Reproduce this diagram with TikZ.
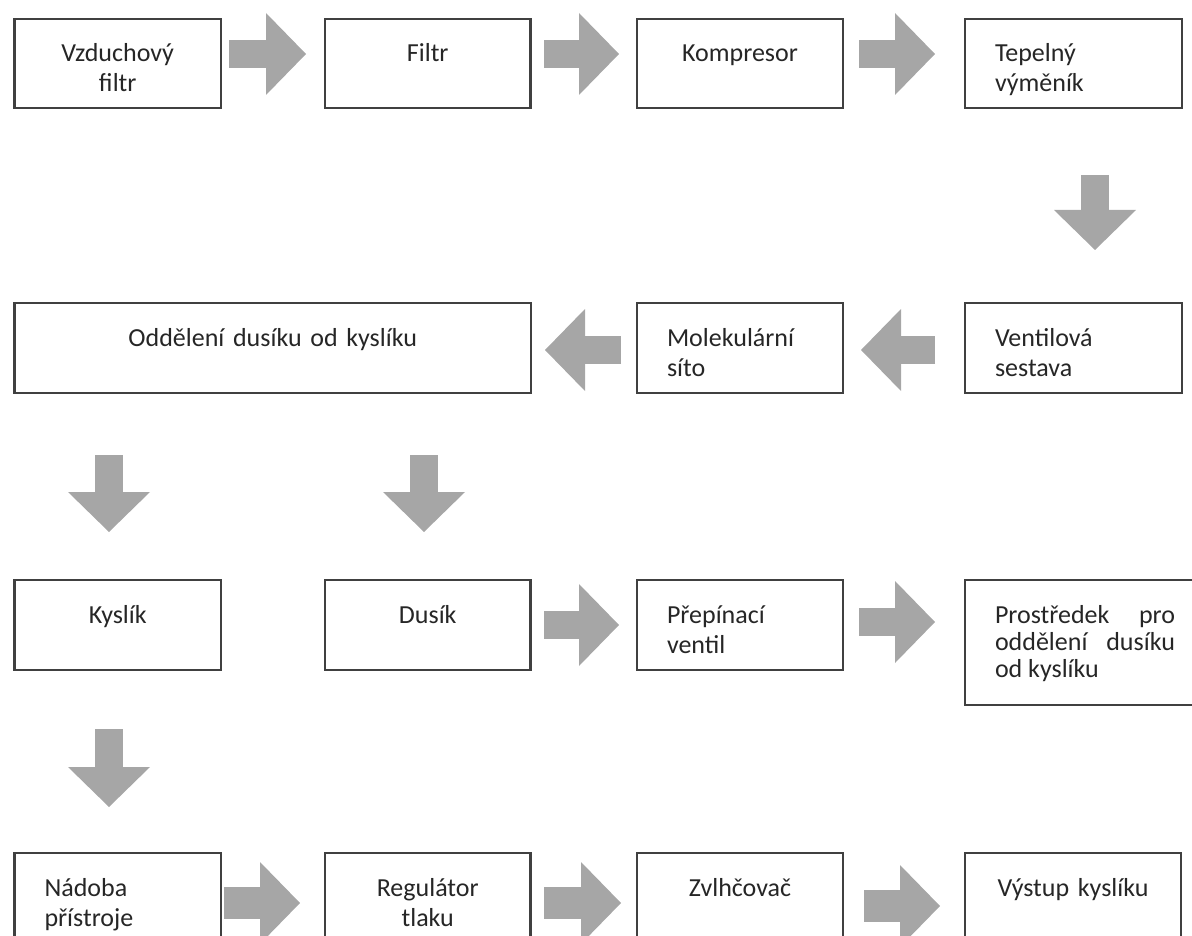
\documentclass[tikz,border=0pt]{standalone}
\usepackage{fontspec}
\setmainfont{Carlito}
\usetikzlibrary{arrows.meta}
\definecolor{arrgray}{RGB}{166,166,166}
\tikzset{
  stepbox/.style={draw=black!75, line width=2.4pt, rectangle, anchor=north west, outer sep=0pt, inner xsep=30pt, inner ysep=0pt, text height=43pt, text depth=46pt, text=black!85, font=\fontsize{26}{30}\selectfont},
  blockarr/.style={draw=arrgray, line width=28pt, -{Triangle[length=40pt,width=82pt,line width=0pt]}},
}

\begin{document}
\begin{tikzpicture}[x=1pt,y=-1pt]
\useasboundingbox (0,0) rectangle (1192,936);
\clip (0,0) rectangle (1192,936);
\node[stepbox, text width=146.5pt, align=center] (vzfiltr) at (14.5,19) {Vzduchový\\filtr};
\node[stepbox, text width=145.5pt, align=center] (filtr) at (325,19) {Filtr};
\node[stepbox, text width=146pt, align=center] (kompresor) at (637,19) {Kompresor};
\node[stepbox, text width=157pt, align=left] (vymenik) at (965,19) {Tepelný\\výměník};
\node[stepbox, text depth=47pt, text width=456.5pt, align=center] (oddeleni) at (14.5,303) {Oddělení dusíku od kyslíku};
\node[stepbox, text depth=47pt, text width=146pt, align=left] (sito) at (637,303) {Molekulární\\síto};
\node[stepbox, text depth=47pt, text width=157pt, align=left] (ventily) at (965,303) {Ventilová\\sestava};
\node[stepbox, text depth=47pt, text width=146.5pt, align=center] (kyslik) at (14.5,580) {Kyslík};
\node[stepbox, text depth=47pt, text width=145.5pt, align=center] (dusik) at (325,580) {Dusík};
\node[stepbox, text depth=47pt, text width=146pt, align=left] (prepinac) at (637,580) {Přepínací\\ventil};
\node[stepbox, text depth=82pt, text width=180pt, align=justify, font=\fontsize{26}{27}\selectfont] (prostredek) at (965,580) {Prostředek pro\linebreak oddělení dusíku\linebreak od kyslíku};
\node[stepbox, text depth=97pt, text width=146.5pt, align=left] (nadoba) at (14.5,853) {Nádoba\\přístroje};
\node[stepbox, text depth=97pt, text width=145.5pt, align=center] (regulator) at (325,853) {Regulátor\\tlaku};
\node[stepbox, text depth=97pt, text width=146pt, align=center] (zvlhcovac) at (637,853) {Zvlhčovač};
\node[stepbox, text depth=97pt, text width=156pt, align=center] (vystup) at (965,853) {Výstup kyslíku};
\draw[blockarr] ([xshift=8pt,yshift=9.5pt]vzfiltr.east) -- ([xshift=-19pt,yshift=9.5pt]filtr.west);
\draw[blockarr] ([xshift=13.5pt,yshift=9.5pt]filtr.east) -- ([xshift=-18pt,yshift=9.5pt]kompresor.west);
\draw[blockarr] ([xshift=16pt,yshift=9.5pt]kompresor.east) -- ([xshift=-30pt,yshift=9.5pt]vymenik.west);
\draw[blockarr] ([xshift=21.5pt,yshift=-67pt]vymenik.south) -- ([xshift=21.5pt,yshift=53pt]ventily.north);
\draw[blockarr] ([xshift=-30pt,yshift=-2pt]ventily.west) -- ([xshift=18pt,yshift=-2pt]sito.east);
\draw[blockarr] ([xshift=-16pt,yshift=-2pt]sito.west) -- ([xshift=14pt,yshift=-2pt]oddeleni.east);
\draw[blockarr] ([xshift=-163.75pt,yshift=-62pt]oddeleni.south) -- ([xshift=-8.75pt,yshift=48pt]kyslik.north);
\draw[blockarr] ([xshift=151.25pt,yshift=-62pt]oddeleni.south) -- ([xshift=-3.75pt,yshift=48pt]dusik.north);
\draw[blockarr] ([xshift=13.5pt]dusik.east) -- ([xshift=-18pt]prepinac.west);
\draw[blockarr] ([xshift=16pt,yshift=3pt]prepinac.east) -- ([xshift=-30pt,yshift=20.5pt]prostredek.west);
\draw[blockarr] ([xshift=-8.75pt,yshift=-59pt]kyslik.south) -- ([xshift=-8.75pt,yshift=46pt]nadoba.north);
\draw[blockarr, line width=32pt] ([xshift=3pt,yshift=20pt]nadoba.east) -- ([xshift=-25pt,yshift=20pt]regulator.west);
\draw[blockarr, line width=32pt] ([xshift=13.5pt,yshift=20pt]regulator.east) -- ([xshift=-16pt,yshift=20pt]zvlhcovac.west);
\draw[blockarr, line width=32pt] ([xshift=21pt,yshift=17pt]zvlhcovac.east) -- ([xshift=-25pt,yshift=17pt]vystup.west);
\end{tikzpicture}
\end{document}
